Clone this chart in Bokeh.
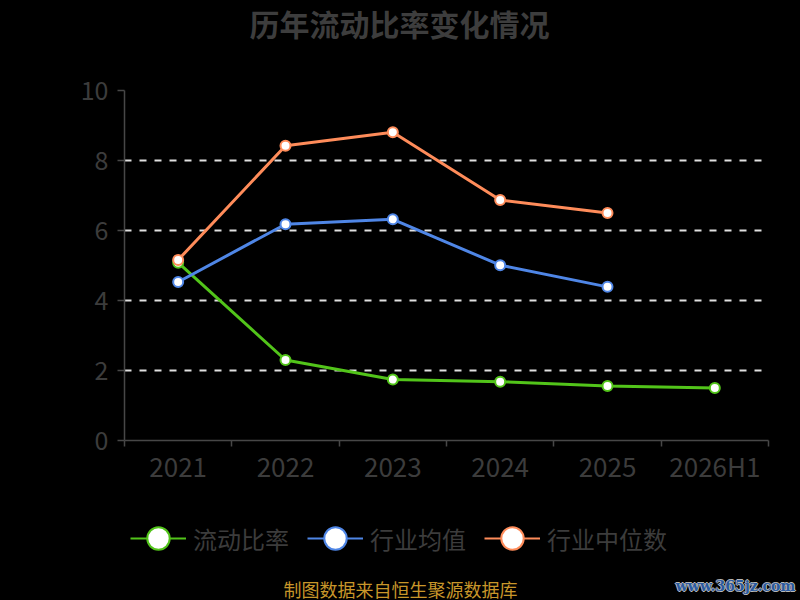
from bokeh.plotting import figure
from bokeh.layouts import column
from bokeh.models import (FactorRange, Range1d, LinearAxis, FixedTicker, Legend,
                          LegendItem, Label)
from bokeh.embed import file_html
from bokeh.resources import INLINE

# ---------------- data ----------------
years = ["2021", "2022", "2023", "2024", "2025", "2026H1"]
current_ratio = [5.08, 2.30, 1.74, 1.68, 1.56, 1.50]
industry_mean = [4.53, 6.18, 6.32, 5.01, 4.39]
industry_median = [5.16, 8.42, 8.81, 6.87, 6.50]
series_names = ["流动比率", "行业均值", "行业中位数"]
y_ticks = [0, 2, 4, 6, 8, 10]
title_text = "历年流动比率变化情况"
footer_text = "制图数据来自恒生聚源数据库"
watermark_text = "www.365jz.com"

# ---------------- style ----------------
GREEN = "#52c41a"
BLUE = "#4f86e6"
ORANGE = "#ff8c5a"
TXT = "#3c3c3c"
AX = "#474747"
FONT = "Noto Sans CJK SC"
W = 800
TOP_H = 48
BOT_H = 100
NAN = float("nan")


def blank(height):
    f = figure(width=W, height=height, x_range=Range1d(0, W), y_range=Range1d(0, height),
               x_axis_type=None, y_axis_type=None, min_border=0,
               output_backend="svg", toolbar_location=None)
    f.background_fill_color = None
    f.border_fill_color = None
    f.outline_line_color = None
    f.frame_align = False
    return f


# ---------------- title ----------------
top = blank(TOP_H)
top.add_layout(Label(x=399, y=TOP_H - 22, text=title_text, text_font=FONT,
                     text_font_size="30px", text_font_style="bold",
                     text_color="#3d3d3d", text_align="center", text_baseline="middle"))

# ---------------- main chart ----------------
p = figure(x_range=FactorRange(*years), y_range=Range1d(0, 10),
           frame_width=644, frame_height=350,
           min_border_left=124, min_border_right=32,
           min_border_top=42, min_border_bottom=60,
           x_axis_type=None, output_backend="svg", toolbar_location=None)
p.background_fill_color = None
p.border_fill_color = None
p.outline_line_color = None

centres = [i + 0.5 for i in range(len(years))]
bounds = list(range(len(years) + 1))
xaxis = LinearAxis(ticker=FixedTicker(ticks=centres, minor_ticks=bounds),
                   major_label_overrides={c: y for c, y in zip(centres, years)})
xaxis.axis_line_color = AX
xaxis.axis_line_width = 1.5
xaxis.major_tick_line_color = None
xaxis.minor_tick_line_color = AX
xaxis.minor_tick_line_width = 1.5
xaxis.minor_tick_out = 6
xaxis.minor_tick_in = 0
xaxis.major_label_text_color = TXT
xaxis.major_label_text_font = FONT
xaxis.major_label_text_font_size = "26px"
xaxis.major_label_standoff = 0
p.add_layout(xaxis, "below")

yaxis = p.yaxis[0]
yaxis.ticker = FixedTicker(ticks=y_ticks)
yaxis.axis_line_color = AX
yaxis.axis_line_width = 1.5
yaxis.major_tick_line_color = AX
yaxis.major_tick_line_width = 1.5
yaxis.major_tick_out = 7
yaxis.major_tick_in = 0
yaxis.minor_tick_line_color = None
yaxis.major_label_text_color = TXT
yaxis.major_label_text_font = FONT
yaxis.major_label_text_font_size = "25px"
yaxis.major_label_standoff = 9

p.xgrid.visible = False
p.ygrid.ticker = FixedTicker(ticks=[t for t in y_ticks if t > 0])
p.ygrid.grid_line_color = "#e0e0e0"
p.ygrid.grid_line_dash = "7 8"
p.ygrid.grid_line_width = 2

series = [(current_ratio, GREEN), (industry_mean, BLUE), (industry_median, ORANGE)]
for vals, col in series:
    xs = years[:len(vals)]
    p.line(xs, vals, line_color=col, line_width=3)
    p.scatter(xs, vals, size=10, fill_color="white", line_color=col, line_width=2)

# ---------------- legend + footer ----------------
bot = blank(BOT_H)
items = []
for name, (vals, col) in zip(series_names, series):
    ll = bot.line([NAN], [NAN], line_color=col, line_width=2)
    ss = bot.scatter([NAN], [NAN], size=10, fill_color="white", line_color=col, line_width=2)
    items.append(LegendItem(label=name, renderers=[ll, ss]))
legend = Legend(items=items, orientation="horizontal", location=(130, 34))
legend.glyph_width = 56
legend.glyph_height = 56
legend.label_standoff = 7
legend.spacing = 18
legend.padding = 0
legend.margin = 0
legend.border_line_color = None
legend.background_fill_alpha = 0
legend.label_text_font = FONT
legend.label_text_font_size = "24px"
legend.label_text_color = TXT
bot.add_layout(legend)

bot.add_layout(Label(x=400, y=12, text=footer_text, text_font=FONT,
                     text_font_size="18px", text_color="#c8962a",
                     text_align="center", text_baseline="middle"))
for dx, dy in [(-1, 0), (1, 0), (0, -1), (0, 1)]:
    bot.add_layout(Label(x=735, y=15, x_offset=dx, y_offset=dy, text=watermark_text,
                         text_font="DejaVu Serif", text_font_size="14px",
                         text_font_style="bold", text_color="#b8b8b8",
                         text_align="center", text_baseline="middle"))
bot.add_layout(Label(x=735, y=15, text=watermark_text,
                     text_font="DejaVu Serif", text_font_size="14px",
                     text_font_style="bold", text_color="#2a5aa0",
                     text_align="center", text_baseline="middle"))

layout = column(top, p, bot, spacing=0)
html = file_html(layout, INLINE)
html = html.replace("</head>", "<style>html, body { background: #000000; }</style></head>", 1)
open("out.html", "w").write(html)
